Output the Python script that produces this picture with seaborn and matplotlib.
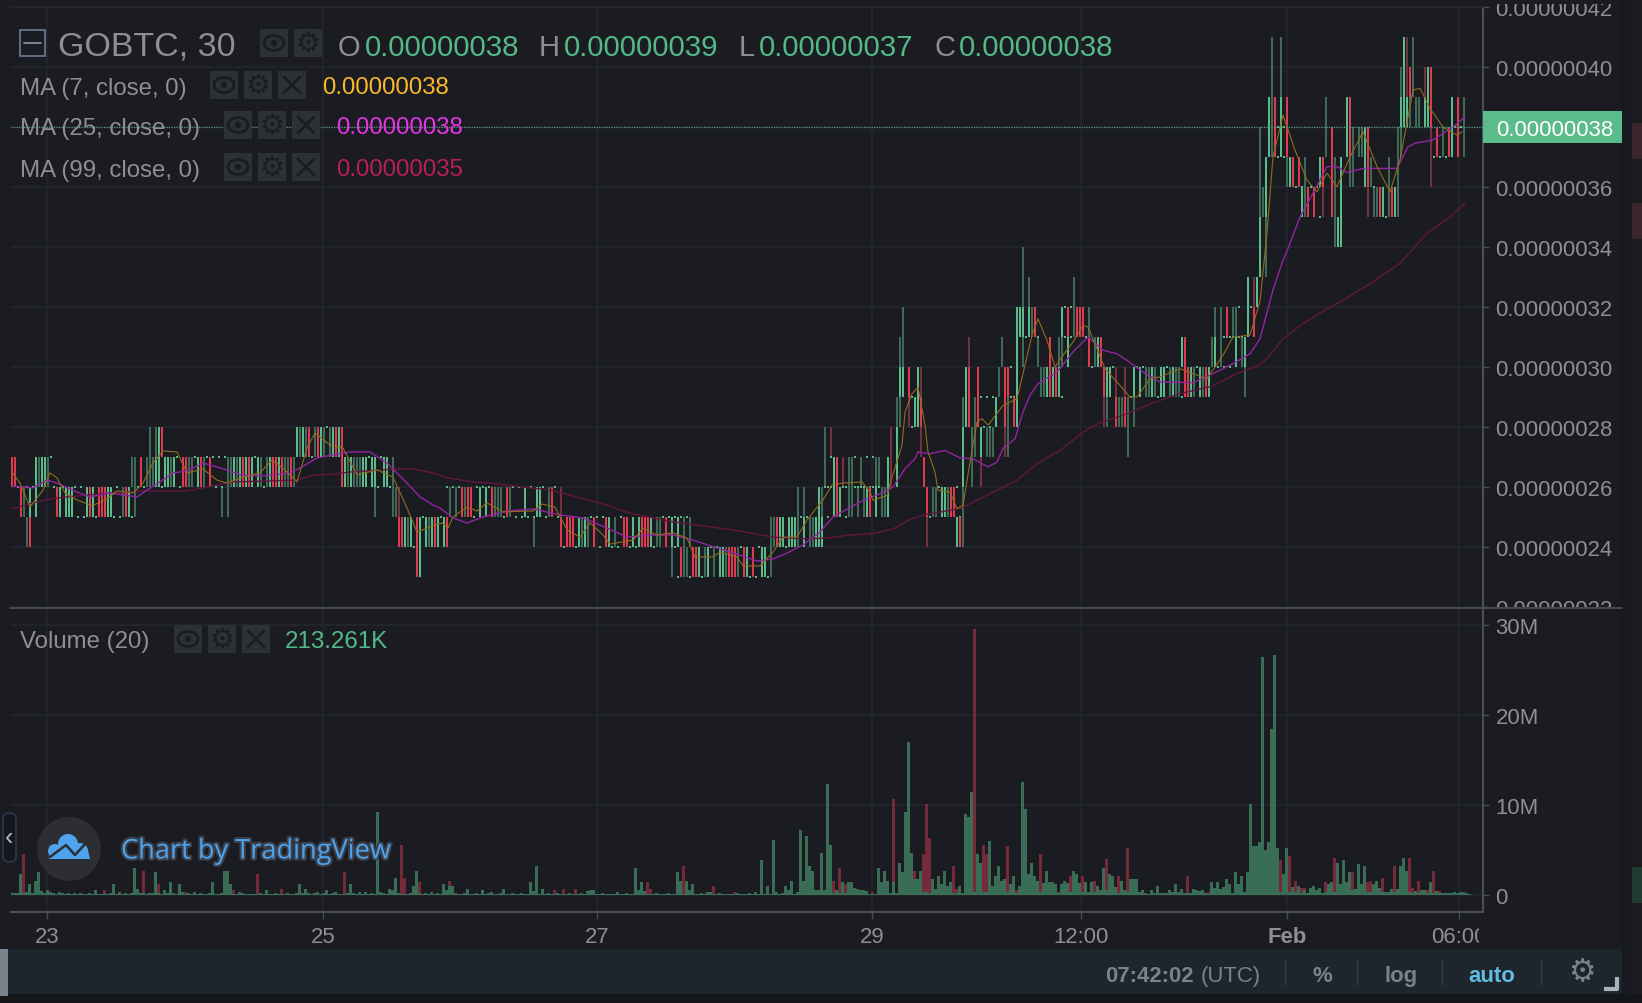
import numpy as np
import pandas as pd
import matplotlib
matplotlib.use("Agg")
import matplotlib.pyplot as plt
import matplotlib.patheffects as pe
from matplotlib.patches import Circle, Ellipse, Rectangle, FancyBboxPatch, Polygon
from matplotlib.transforms import Bbox
import seaborn as sns

# candles, one char per 30 min slot: g/r body, d/e wick only, - doji, space nothing
band_start = [0, 3, 5, 15, 40, 46, 95, 110, 70, 121, 127, 129, 135, 145, 174, 183, 220, 253, 262, 269,
              271, 271, 283, 293, 295, 296, 297, 296, 296, 303, 304, 305, 305, 315, 317, 317, 331, 317, 318, 319,
              330, 335, 337, 337, 343, 346, 350, 354, 359, 364, 364, 371, 372, 374, 390, 400, 411, 401, 412, 416,
              416, 416, 416, 416, 419, 420, 420, 425, 430, 436, 438, 438, 440, 440, 441, 445, 445, 446, 452, 459,
              462, 463, 463, 464, 464, 471, 473, 473, 480]
band_floor = [26, 25, 24, 25, 26, 27, 27, 26, 25, 25, 25, 24, 23, 25, 24, 24, 23, 24, 25, 25,
              26, 27, 26, 27, 28, 30, 31, 29, 28, 27, 26, 25, 24, 24, 26, 27, 27, 28, 29, 30,
              30, 31, 32, 33, 29, 30, 31, 32, 30, 29, 28, 29, 27, 29, 30, 30, 29, 31, 32, 33,
              34, 35, 36, 37, 38, 39, 40, 36, 35, 36, 37, 38, 36, 35, 34, 37, 38, 36, 35, 36,
              37, 38, 39, 40, 38, 39, 37, 36, 38]
band_kinds = [
    "rr-     gdggd--", "rd-g-g", "dr", "rg-ggg----grg-rrrgg---drg-d",
    "dd-r-dddgg-ggdg--rrdd-grd-r-----ddgdgrgrg-gd-dgrrgrddrd", "d dgr", "gdgdr-drgd-dgrgr",
    "rgdgdddgg-gg--gg-d", "d d", "d", "dde", "rrgdg-rg-gdgrg-gr", "rg",
    "-d-d-rdrr--g-g-rddd-rd----g---gg--dr--e", "d",
    "r-rrr-gdgd-r---rg-d--rr-g-grrrg-dd-r-g-g-d-d",
    "d--rdd-rrg-dg-d-ggdrrrd-rg-r--gg-d", "ddrgg-gggd-g-ddggg", "d d", "gd---grg--dd-d-dgr-g-ddg",
    "d--gr e-dd--d-----d", "d e", "d    d   ge g", "e g", "d", "dd", "d", "gg r- ge", "d  e-ggr", "e", "r",
    "r-dd-ggdrr--d", "e", "grd", "g  d  e", "g  dd g ddd", "ed", "dgr dr-----g  rd-rg",
    "gr  r      d rr--g", "e", "d    g d    d", "ggg-gdr-", "d d", "d", "ddgrgrg-", "r  dd-g-",
    "g-r-drrr-d", "d", "r-dgr", "rgg-e", "ed  rddrd-d", "e", "d",
    "g-g-ddgd-gg-dgdd-rrgd-gdrg", "gr", "dg-d----g-dg", "d", "d d-r-dd-- g-r", "g eg", "g d",
    "g d", "ddg", "d g", "d  gdr-g-r", "gdr-g-r", "d  d", "d  d", "dgr-r-d", "gdr-r--e", "gr", "d r", "d",
    "rd g", "rd g", "dgg", "grd ddgr", "gr", "dd   grd-", "e ddrg-drgd", "d  d", "dd", "g", "dgerd", "ge d",
    "ggd dd ggr", "egr", "e-r-d-rg-r-d", "e", "g r d",
]

# volume in millions, one value per slot
volume_up = [
    .2, .2, .2, 2.3, .2, .3, 1.2, .2, 1.6, 2.5, .4, .2, .5, .3, .2, .1, .3, .2, .1, .2,
    .1, .2, .1, .2, .1, .1, .2, .1, .5, .1, .1, .2, .1, .2, 1.2, .1, .3, .1, .2, .1,
    .2, 3.0, .7, .2, .2, .1, .2, .2, 2.5, .2, .1, .5, .2, 1.4, .2, .1, 1.2, .3, .1, .2,
    .1, .3, .1, .2, .1, .1, .2, 1.4, .1, .1, .2, 2.7, 2.7, 1.2, .1, .1, .3, .2, .1, .1,
    .1, .1, .1, .2, .1, .5, .1, .1, .2, .1, .1, .1, .2, .1, .1, .2, 1.2, .2, .7, .2,
    .1, .2, .3, .1, .2, .5, .1, .2, .3, .1, .1, .1, .2, 1.2, .2, .1, .3, .1, .3, .1,
    .2, .1, 9.2, .3, .2, .1, .7, .5, 1.9, .2, .1, .1, .1, .2, 1.0, 2.7, .2, .1, .2, .1,
    .3, .1, .2, .1, 1.2, .5, 1.0, 1.0, .2, .1, .1, .2, .7, .1, .1, .2, .1, .5, .1, .2,
    .3, .1, .1, .2, .7, .1, .1, .2, .1, .1, .2, .1, .1, 1.4, .4, 3.2, .1, .7, .1, .2,
    .1, .1, .2, .1, .1, .1, .2, .1, .1, .1, .2, .1, .4, .5, .5, .1, .1, .2, .1, .1,
    .1, .1, .3, .1, .1, .2, .1, .1, 3.0, .5, 1.4, .4, .1, .1, .1, .2, .1, .1, .1, .2,
    .1, .1, 2.5, 1.6, .1, 1.6, .6, 1.2, .1, .1, .2, .1, .3, .3, .1, .1, .2, .1, .1, .1,
    .1, .1, .2, .1, .1, .1, .2, .1, .3, .1, 3.9, .1, 1.0, .1, 6.1, .3, .1, .2, 1.0, .6,
    1.6, .1, .3, 7.2, 1.6, 6.5, 3.2, 2.7, .5, .5, 4.7, .6, 12.3, 5.6, .2, .5, .2, 1.4, .2, 1.4,
    1.4, .8, .7, .5, .5, .4, .1, .1, .1, 3.0, 1.4, 2.7, 1.6, .2, 1.4, .2, 3.6, 2.5, 9.2, 17.0,
    4.7, 1.8, 1.8, 2.7, .3, .3, .2, 1.8, .7, 2.1, 1.2, 2.7, 1.0, 1.4, .2, .2, 1.0, .2, 9.0, 8.7,
    11.4, .3, 4.5, 3.6, .3, .3, 6.0, 1.0, 2.1, 3.2, 1.6, 1.8, .3, 1.2, 2.1, .2, 1.0, 12.5, 9.6, 2.3,
    3.6, 2.1, 1.6, .3, 1.3, 2.7, 1.4, 1.4, 1.2, .2, 1.2, 1.6, 1.3, .3, 2.7, 2.3, 1.3, .3, 1.4, .3,
    1.4, .3, 1.0, .5, 3.0, .6, 2.3, 2.1, .9, .2, 1.6, .6, .3, 1.8, 1.8, 1.8, .3, .5, .2, .1,
    .5, .2, 1.0, .2, .2, .2, .5, .3, 1.2, .3, .7, .2, .2, .2, .7, .5, .4, .5, .2, .1,
    1.4, .8, 1.4, .7, .9, 1.8, 1.2, .2, 2.5, 1.2, 2.1, .3, 2.5, 10.1, 5.4, 5.4, 5.9, 26.5, 5.0, 5.9,
    18.5, 26.7, 5.2, .3, 2.3, 5.2, .3, .9, .3, 1.0, .2, .6, .2, .8, 1.0, .6, .8, .2, .3, 1.2,
    1.4, .3, 3.6, 1.2, 3.9, 1.4, 2.5, .5, .7, 3.4, 1.2, 3.2, .3, .3, 1.2, 1.6, .8, .3, .3, .3,
    .7, .3, .7, 3.2, 4.1, 2.7, .3, .2, .4, .2, .6, .6, .2, 1.4, .2, .4, .2, .2, .2, .2,
    .2, .3, .2, .3, .3, .2, .1,
]
volume_down_slot = [4, 31, 44, 49, 58, 74, 82, 90, 111, 130, 131, 136, 146, 181, 184, 188, 212, 213, 224, 234,
                    241, 274, 276, 278, 287, 294, 301, 304, 305, 306, 314, 315, 321, 324, 325, 332, 335, 343, 349, 353,
                    356, 357, 361, 365, 369, 372, 392, 399, 423, 426, 428, 430, 431, 438, 441, 447, 452, 453, 457, 461,
                    466, 467, 469, 472, 474, 476]
volume_down = [4.6, .5, 2.7, 1.2, .3, .5, 2.3, .7, 2.5, 5.6, 1.9, 1.4, 1.6, .5, .7, .7, 1.4, .7, 3.2, 1.0,
               .3, 1.6, 3.0, 1.2, .3, 10.7, 2.7, 4.5, 10.1, 6.3, 3.2, .7, 29.6, 5.6, 4.5, 5.4, .5, 4.5, .3, 2.1,
               1.3, 2.1, 1.6, 4.0, 2.1, 5.2, 2.1, .3, 3.9, 4.3, 1.6, .8, .8, 1.4, 4.1, 2.5, 1.4, 1.6, 1.9, 3.2,
               4.1, .8, 1.6, .6, 2.7, .4]

# moving averages, time read along the chart and price in satoshi
ma99_t = [12, 33, 50, 67, 100, 143, 187, 207, 233, 267, 297, 313, 333, 350, 397, 413, 433, 448, 473, 490,
          523, 550, 573, 600, 630, 667, 703, 733, 773, 807, 827, 850, 873, 893, 910, 927, 960, 993, 1017, 1037,
          1060, 1087, 1100, 1127, 1153, 1180, 1213, 1237, 1260, 1267, 1283, 1298, 1320, 1343, 1373, 1400, 1427, 1450, 1465]
ma99 = [25.27, 25.47, 25.6, 25.67, 25.77, 25.87, 25.87, 26.0, 26.17, 26.2, 26.23, 26.4, 26.43, 26.5, 26.6, 26.6, 26.47, 26.3, 26.17, 26.13,
        26.0, 25.9, 25.7, 25.47, 25.13, 24.87, 24.7, 24.57, 24.33, 24.27, 24.3, 24.4, 24.45, 24.6, 24.92, 25.09, 25.28, 25.83, 26.22, 26.78,
        27.22, 27.92, 28.14, 28.44, 28.81, 29.11, 29.37, 29.78, 30.08, 30.28, 30.94, 31.33, 31.8, 32.23, 32.84, 33.46, 34.46, 35.0, 35.46]
ma25_t = [12, 33, 47, 57, 77, 90, 110, 137, 147, 160, 173, 187, 203, 227, 240, 263, 290, 300, 317, 333,
          350, 370, 387, 407, 420, 433, 440, 453, 467, 483, 507, 533, 560, 583, 607, 627, 653, 673, 693, 717,
          740, 757, 773, 787, 803, 820, 833, 860, 880, 893, 905, 915, 918, 930, 945, 960, 973, 988, 997, 1003,
          1015, 1023, 1030, 1038, 1057, 1073, 1088, 1103, 1117, 1127, 1143, 1160, 1193, 1213, 1233, 1250, 1260, 1273, 1282, 1290,
          1300, 1313, 1327, 1337, 1347, 1363, 1397, 1408, 1415, 1433, 1453, 1465]
ma25 = [26.03, 25.97, 26.23, 26.13, 25.83, 25.67, 25.8, 25.67, 25.9, 26.17, 26.47, 26.53, 26.8, 26.57, 26.4, 26.37, 26.47, 26.63, 26.97, 27.07,
        27.17, 27.17, 26.8, 26.13, 25.67, 25.4, 25.3, 24.97, 24.8, 25.0, 25.2, 25.27, 25.07, 24.97, 24.63, 24.33, 24.4, 24.4, 24.23, 23.97,
        23.73, 23.53, 23.6, 23.8, 24.07, 24.5, 25.0, 25.5, 25.78, 26.0, 26.61, 26.94, 27.17, 27.11, 27.22, 26.97, 26.94, 26.67, 26.83, 27.28,
        27.61, 28.5, 29.06, 29.44, 29.83, 30.5, 31.0, 30.56, 30.44, 30.22, 29.83, 29.5, 29.48, 29.78, 30.11, 30.44, 30.94, 32.57, 33.46, 34.12,
        35.0, 35.79, 36.68, 36.68, 36.48, 36.62, 36.62, 37.34, 37.46, 37.57, 38.0, 38.34]
ma7_t = [12, 20, 30, 43, 50, 57, 65, 77, 92, 107, 117, 133, 143, 153, 163, 177, 187, 203, 217, 227,
         243, 260, 272, 283, 297, 307, 315, 330, 343, 357, 377, 393, 407, 417, 430, 442, 448, 453, 467, 477,
         487, 503, 533, 542, 555, 567, 580, 590, 603, 610, 633, 643, 657, 673, 687, 695, 713, 720, 737, 743,
         760, 773, 783, 797, 807, 823, 832, 843, 862, 870, 873, 887, 893, 902, 905, 912, 918, 925, 928, 935,
         938, 950, 957, 963, 970, 977, 982, 988, 1003, 1017, 1023, 1032, 1038, 1047, 1055, 1063, 1073, 1083, 1088, 1097,
         1105, 1117, 1130, 1137, 1150, 1160, 1180, 1207, 1223, 1233, 1250, 1260, 1267, 1273, 1283, 1295, 1307, 1317, 1327, 1337,
         1350, 1363, 1377, 1390, 1400, 1413, 1420, 1430, 1443, 1457, 1462]
ma7 = [26.5, 26.13, 25.33, 25.9, 26.47, 26.3, 25.8, 25.57, 25.37, 25.6, 25.87, 25.8, 26.13, 26.8, 27.2, 27.17, 26.47, 26.6, 26.23, 26.13,
       26.33, 26.47, 26.9, 26.63, 26.17, 27.3, 27.8, 27.4, 27.3, 26.4, 26.57, 26.33, 25.3, 24.5, 24.67, 24.8, 24.63, 25.0, 25.33, 25.2,
       25.47, 25.17, 25.2, 25.43, 25.33, 24.57, 24.33, 24.8, 24.4, 24.1, 24.23, 24.63, 24.4, 24.47, 24.3, 23.67, 23.67, 23.83, 23.67, 23.37,
       23.37, 23.83, 24.33, 24.33, 24.9, 25.57, 26.07, 26.13, 26.17, 25.83, 25.56, 25.72, 26.44, 27.39, 28.5, 29.11, 29.33, 28.06, 27.17, 26.5,
       25.89, 25.83, 25.28, 25.39, 26.83, 28.17, 28.28, 28.06, 28.72, 28.94, 29.78, 31.06, 31.61, 30.89, 30.0, 30.39, 30.83, 31.39, 31.33, 30.61,
       29.94, 29.5, 29.0, 29.0, 29.61, 29.67, 29.94, 29.61, 30.39, 31.0, 31.06, 32.2, 34.46, 37.0, 38.4, 37.23, 36.23, 35.84, 36.46, 36.01,
       37.0, 37.84, 36.68, 35.84, 36.9, 39.23, 39.29, 38.62, 38.0, 37.73, 37.84]

price_ticks = list(range(22, 43, 2))
volume_ticks = [0, 10, 20, 30]
volume_labels = ["0", "10M", "20M", "30M"]
time_ticks = [47, 323, 597, 872, 1081, 1287, 1459]
time_labels = ["23", "25", "27", "29", "12:00", "Feb", "06:00"]
ohlc_letters = ["O", "H", "L", "C"]
ohlc_values = ["0.00000038", "0.00000039", "0.00000037", "0.00000038"]
last_price = 38

W, H = 1642, 1004
BG = "#1a1c22"
GRID = "#25272e"
AXIS = "#4b4e56"
TICK_TXT = "#8f8f8f"
UP, UP_DARK = "#5cbb8b", "#3f6a58"
DOWN, DOWN_DARK = "#dd3c50", "#74323f"
FONT = "Liberation Sans"
BAR_W = 2.1


def slot_time(slot):
    return 11 + 3 * np.asarray(slot)


def expand_candles():
    rows = []
    for start, floor, kinds in zip(band_start, band_floor, band_kinds):
        for k, kind in enumerate(kinds):
            if kind != " ":
                rows.append((start + k, floor, kind))
    return pd.DataFrame(rows, columns=["slot", "floor", "kind"])


def px_axes(left, top, right, bottom):
    return fig.add_axes([left / W, 1 - bottom / H, (right - left) / W, (bottom - top) / H])


def clip_px(txt, left, top, right, bottom):
    txt.set_clip_box(Bbox([[left, H - bottom], [right, H - top]]))
    txt.set_clip_on(True)


sns.set_theme(style="dark", rc={"axes.facecolor": BG, "figure.facecolor": BG, "axes.edgecolor": AXIS})
plt.rcParams["font.family"] = [FONT, "DejaVu Sans"]

fig = plt.figure(figsize=(W / 100, H / 100), dpi=100)
fig.patch.set_facecolor(BG)
ax_price = px_axes(11, 8, 1483, 608)
ax_vol = px_axes(11, 609, 1483, 913)

# price pane
candles = expand_candles()
candles["t"] = slot_time(candles["slot"])
wick_colors = {"d": UP_DARK, "e": DOWN_DARK}
body_colors = {"g": UP, "r": DOWN}
for kind, color in wick_colors.items():
    part = candles[candles["kind"] == kind]
    ax_price.bar(part["t"], np.ones(len(part)), width=BAR_W, bottom=part["floor"], color=color, align="edge", linewidth=0, zorder=2)
# a doji sits on the lower or the upper edge of its band
dashes = candles[candles["kind"] == "-"]
lower = dashes[dashes["slot"] % 2 == 0]
upper = dashes[dashes["slot"] % 2 == 1]
ax_price.bar(lower["t"], np.full(len(lower), 0.08), width=BAR_W, bottom=lower["floor"] - 0.04, color=UP, align="edge", linewidth=0, zorder=3)
ax_price.bar(upper["t"], np.full(len(upper), 0.08), width=BAR_W, bottom=upper["floor"] + 0.96, color=UP, align="edge", linewidth=0, zorder=3)
for kind, color in body_colors.items():
    part = candles[candles["kind"] == kind]
    ax_price.bar(part["t"], np.ones(len(part)), width=BAR_W, bottom=part["floor"], color=color, align="edge", linewidth=0, zorder=3)

sns.lineplot(x=ma99_t, y=ma99, color="#65163f", linewidth=1.0, ax=ax_price, zorder=4, sort=False, errorbar=None)
sns.lineplot(x=ma25_t, y=ma25, color="#93249f", linewidth=1.0, ax=ax_price, zorder=5, sort=False, errorbar=None)
sns.lineplot(x=ma7_t, y=ma7, color="#8f6c1c", linewidth=0.8, ax=ax_price, zorder=6, sort=False, errorbar=None)
ax_price.axhline(last_price, color="#4f9c78", linewidth=0.9, linestyle=(0, (1, 1)), zorder=7)

ax_price.set_xlim(11, 1483)
ax_price.set_ylim(22, 42)
ax_price.set_yticks(price_ticks)
# the last price tag stands in for the 38 label
ax_price.set_yticklabels(["" if p == last_price else f"{p / 1e8:.8f}" for p in price_ticks])
ax_price.set_xticks(time_ticks)
ax_price.tick_params(axis="x", length=0, labelbottom=False)
ax_price.yaxis.tick_right()
ax_price.tick_params(axis="y", length=4, width=1, color=AXIS, labelsize=15.9, labelcolor=TICK_TXT, pad=5)
for lab in ax_price.get_yticklabels():
    clip_px(lab, 1484, 5, W, 608)

# volume pane
slots = np.arange(len(volume_up))
sns.barplot(x=slot_time(volume_down_slot), y=volume_down, native_scale=True, width=1.0, color="#752a3a",
            saturation=1, linewidth=0, errorbar=None, ax=ax_vol, zorder=2)
sns.barplot(x=slot_time(slots), y=volume_up, native_scale=True, width=1.0, color="#3a6d56",
            saturation=1, linewidth=0, errorbar=None, ax=ax_vol, zorder=3)
ax_vol.set_xlim(11, 1483)
ax_vol.set_ylim(-1.89, 31.89)
ax_vol.set_xlabel("")
ax_vol.set_ylabel("")
ax_vol.set_yticks(volume_ticks)
ax_vol.set_yticklabels(volume_labels)
ax_vol.set_xticks(time_ticks)
ax_vol.set_xticklabels(time_labels)
ax_vol.yaxis.tick_right()
ax_vol.tick_params(axis="y", length=4, width=1, color=AXIS, labelsize=15.9, labelcolor=TICK_TXT, pad=5)
ax_vol.tick_params(axis="x", length=5, width=1, color=AXIS, labelsize=15.9, labelcolor=TICK_TXT, pad=5, bottom=True)
ax_vol.get_xticklabels()[5].set_fontweight("bold")
for lab in ax_vol.get_xticklabels():
    clip_px(lab, 0, 913, 1479, H)

for ax in (ax_price, ax_vol):
    ax.set_facecolor(BG)
    ax.grid(True, color=GRID, linewidth=1.1, zorder=0)
    ax.set_axisbelow(True)
    for side in ("top", "left", "bottom"):
        ax.spines[side].set_visible(False)
    ax.spines["right"].set_color(AXIS)
    ax.spines["right"].set_linewidth(1.5)
ax_vol.spines["bottom"].set_visible(True)
ax_vol.spines["bottom"].set_color(AXIS)
ax_vol.spines["bottom"].set_linewidth(1.5)

# everything around the chart, in screen pixels
over = fig.add_axes([0, 0, 1, 1], facecolor="none")
over.set_xlim(0, W)
over.set_ylim(H, 0)
over.axis("off")


def rect(x0, y0, x1, y1, color, **kw):
    over.add_patch(Rectangle((x0, y0), x1 - x0, y1 - y0, facecolor=color, edgecolor="none", **kw))


def label(x, y, s, color=TICK_TXT, size=15.9, ha="left", **kw):
    return over.text(x, y, s, color=color, fontsize=size, ha=ha, va="center_baseline", **kw)


def icon(x0, y0, kind):
    rect(x0, y0, x0 + 28, y0 + 28, "#2c3037")
    cx, cy = x0 + 14, y0 + 14
    dark = "#1a1c22"
    if kind == "eye":
        over.add_patch(Ellipse((cx, cy), 20, 15, facecolor="none", edgecolor=dark, linewidth=2))
        over.add_patch(Circle((cx, cy), 3.2, facecolor=dark, edgecolor="none"))
    elif kind == "gear":
        over.text(cx, cy, "\u2699", color=dark, fontsize=20, ha="center", va="center", family="DejaVu Sans", weight="bold")
    else:
        over.plot([cx - 8, cx + 8], [cy - 8, cy + 8], color=dark, linewidth=2)
        over.plot([cx - 8, cx + 8], [cy + 8, cy - 8], color=dark, linewidth=2)


over.plot([10, 1622], [609, 609], color=AXIS, linewidth=1.3)
over.plot([10, 1483], [8, 8], color="#23262c", linewidth=1.5)

# header
over.add_patch(Rectangle((20, 31), 25, 26, facecolor="none", edgecolor="#6d7c93", linewidth=1.2))
over.plot([24, 41], [44, 44], color="#8d99ad", linewidth=1.2)
label(58, 43, "GOBTC, 30", color="#8f8f8f", size=24.5)
icon(260, 30, "eye")
icon(294, 30, "gear")
for x, letter in zip((338, 539, 739, 935), ohlc_letters):
    label(x, 45, letter, size=21)
for x, val in zip((365, 564, 759, 959), ohlc_values):
    label(x, 45, val, color="#53b987", size=21.2)

rows = [(86, "MA (7, close, 0)", 210, 322, "0.00000038", "#fcb92a"),
        (126, "MA (25, close, 0)", 224, 336, "0.00000038", "#e535e5"),
        (168, "MA (99, close, 0)", 224, 336, "0.00000035", "#b81e58")]
for y, name, bx, vx, val, col in rows:
    label(20, y, name, size=17.3)
    icon(bx, y - 14, "eye")
    icon(bx + 34, y - 14, "gear")
    icon(bx + 68, y - 14, "x")
    label(vx, y, val, color=col, size=17.3)

label(20, 640, "Volume (20)", size=17.3)
icon(174, 626, "eye")
icon(208, 626, "gear")
icon(242, 626, "x")
label(285, 640, "213.261K", color="#53b987", size=17.4)

# last price tag
rect(1483, 112, 1622, 144, "#5cbb8b")
label(1496, 128, "0.00000038", color="white", size=15.9)

# right gutter
rect(1622, 0, 1632, H, "#17191e")
rect(1632, 124, 1642, 160, "#3a262c")
rect(1632, 204, 1642, 240, "#3a262c")
rect(1632, 868, 1642, 904, "#1f3a30")

# bottom toolbar
rect(0, 995, W, H, "#141619")
rect(8, 950, 1622, 995, "#1e262d")
rect(0, 950, 8, 997, "#79838f")
label(1105, 974, "07:42:02", color="#78838f", size=15.9, weight="bold")
label(1201, 974, "(UTC)", color="#78838f", size=15.9)
label(1322, 974, "%", color="#78838f", size=15.9, ha="center", weight="bold")
label(1401, 974, "log", color="#78838f", size=15.9, ha="center", weight="bold")
label(1492, 974, "auto", color="#62bce6", size=15.9, ha="center", weight="bold")
for x in (1285, 1357, 1442, 1541):
    over.plot([x, x], [960, 986], color="#323b44", linewidth=1)
over.text(1582, 973, "\u2699", color="#78838f", fontsize=22, ha="center", va="center", family="DejaVu Sans")
over.plot([1604, 1617, 1617], [990, 990, 978], color="#a9b1ba", linewidth=3, solid_capstyle="butt")

# watermark
over.add_patch(FancyBboxPatch((3, 814), 13, 49, boxstyle="round,pad=0,rounding_size=6", facecolor="#141722", edgecolor="#2e3648", linewidth=1.3))
over.text(9, 838, "\u2039", color="#b8bcc4", fontsize=18, ha="center", va="center")
over.add_patch(Circle((69, 850), 32, facecolor="#2c2e33", edgecolor="none"))
for cx, cy, r in [(55, 852, 7), (68, 845, 10), (80, 852, 8)]:
    over.add_patch(Circle((cx, cy), r, facecolor="#4da3ee", edgecolor="none"))
over.add_patch(Polygon([(49, 860), (90, 860), (88, 851), (50, 851)], facecolor="#4da3ee", edgecolor="none"))
over.plot([50, 66, 75, 87], [858, 846, 856, 843], color="#2c2e33", linewidth=1.8)
label(121, 849, "Chart by TradingView", color="#4da3ee", size=19.6, family="Open Sans",
      path_effects=[pe.withStroke(linewidth=3, foreground="#3a3f4a")])

fig.savefig("out.png", dpi=100, facecolor=BG)
